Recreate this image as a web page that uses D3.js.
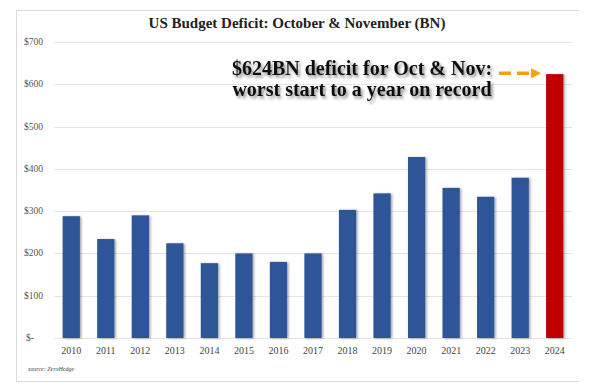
<!DOCTYPE html>
<html>
<head>
<meta charset="utf-8">
<script src="https://cdn.jsdelivr.net/npm/d3@7"></script>
<style>
  body { margin: 0; background: #fff; }
  text { font-family: "Liberation Serif", "Times New Roman", serif; }
</style>
</head>
<body>
<div id="chart"></div>
<script>
// data (BN)
const years = ["2010","2011","2012","2013","2014","2015","2016","2017","2018","2019","2020","2021","2022","2023","2024"];
const deficits = [288, 234, 290, 224, 177, 200, 180, 200, 303, 342, 428, 355, 334, 379, 624];
const yTicks = [0, 100, 200, 300, 400, 500, 600, 700];
const highlightYear = "2024";

const width = 593, height = 388;
const margin = {top: 42, right: 21, bottom: 50, left: 54};

const svg = d3.select("#chart")
  .append("svg")
  .attr("width", width)
  .attr("height", height);

const defs = svg.append("defs");
const barShadow = defs.append("filter").attr("id", "barShadow")
  .attr("x", "-20%").attr("y", "-5%").attr("width", "160%").attr("height", "115%");
barShadow.append("feDropShadow")
  .attr("dx", 1.5).attr("dy", 0.5).attr("stdDeviation", 0.8)
  .attr("flood-color", "#000").attr("flood-opacity", 0.35);
const textShadow = defs.append("filter").attr("id", "textShadow")
  .attr("x", "-10%").attr("y", "-30%").attr("width", "120%").attr("height", "180%");
textShadow.append("feDropShadow")
  .attr("dx", 2).attr("dy", 2.5).attr("stdDeviation", 1.6)
  .attr("flood-color", "#000").attr("flood-opacity", 0.45);

// frame
svg.append("path")
  .attr("d", "M579,10.5H16.5V381.5H579")
  .attr("fill", "none")
  .attr("stroke", "#d9d9d9");

const x = d3.scaleBand()
  .domain(years)
  .range([margin.left, width - margin.right])
  .paddingInner(0.5)
  .paddingOuter(0.25);

const y = d3.scaleLinear()
  .domain([0, 700])
  .range([height - margin.bottom, margin.top]);

// gridlines
svg.append("g")
  .selectAll("line")
  .data(yTicks)
  .enter()
  .append("line")
  .attr("x1", margin.left)
  .attr("x2", width - margin.right)
  .attr("y1", d => Math.round(y(d)) + 0.5)
  .attr("y2", d => Math.round(y(d)) + 0.5)
  .style("stroke", "#e4e4e4");

// y labels
svg.append("g")
  .selectAll("text")
  .data(yTicks)
  .enter()
  .append("text")
  .attr("x", d => d === 0 ? 26 : 24)
  .attr("y", d => y(d) + 3)
  .attr("font-size", 9.5)
  .attr("fill", "#555")
  .text(d => d === 0 ? "$-" : "$" + d);

// bars
svg.append("g")
  .selectAll("rect")
  .data(years)
  .enter()
  .append("rect")
  .attr("x", d => x(d))
  .attr("width", x.bandwidth())
  .attr("y", (d, i) => y(deficits[i]))
  .attr("height", (d, i) => y(0) - y(deficits[i]))
  .attr("fill", d => d === highlightYear ? "#c00000" : "#2f5597")
  .attr("filter", "url(#barShadow)");

// x labels
svg.append("g")
  .selectAll("text")
  .data(years)
  .enter()
  .append("text")
  .attr("x", d => x(d) + x.bandwidth() / 2)
  .attr("y", 354)
  .attr("text-anchor", "middle")
  .attr("font-size", 10)
  .attr("fill", "#444")
  .text(d => d);

// title
svg.append("text")
  .attr("x", 297)
  .attr("y", 28)
  .attr("text-anchor", "middle")
  .attr("font-size", 15)
  .attr("font-weight", "bold")
  .attr("fill", "#222")
  .text("US Budget Deficit: October & November (BN)");

// source
svg.append("text")
  .attr("x", 28)
  .attr("y", 371)
  .attr("font-size", 6)
  .attr("font-style", "italic")
  .attr("fill", "#444")
  .text("source: ZeroHedge");

// annotation
const note = svg.append("g").attr("filter", "url(#textShadow)");
note.append("text")
  .attr("x", 362)
  .attr("y", 75)
  .attr("text-anchor", "middle")
  .attr("font-size", 20)
  .attr("font-weight", "bold")
  .attr("fill", "#111")
  .text("$624BN deficit for Oct & Nov:");
note.append("text")
  .attr("x", 362)
  .attr("y", 96)
  .attr("text-anchor", "middle")
  .attr("font-size", 20)
  .attr("font-weight", "bold")
  .attr("fill", "#111")
  .text("worst start to a year on record");

// dashed arrow to the 2024 bar
const last = deficits[deficits.length - 1];
const ay = y(last) - 1;
const ax2 = x(highlightYear) - 5;
svg.append("line")
  .attr("x1", 499)
  .attr("x2", ax2 - 8)
  .attr("y1", ay)
  .attr("y2", ay)
  .attr("stroke", "#f0a30a")
  .attr("stroke-width", 3.5)
  .attr("stroke-dasharray", "12,6");
svg.append("path")
  .attr("d", `M${ax2},${ay}L${ax2 - 10},${ay - 5}L${ax2 - 10},${ay + 5}Z`)
  .attr("fill", "#f0a30a");
</script>
</body>
</html>
